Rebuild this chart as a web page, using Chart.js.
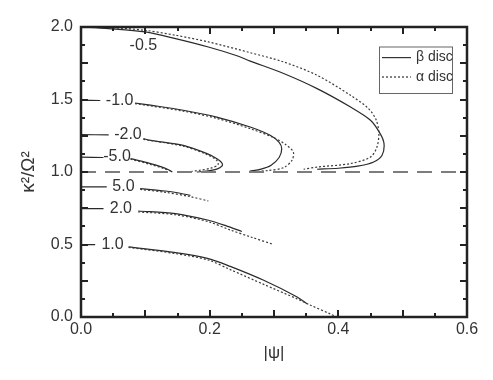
<!DOCTYPE html>
<html>
<head>
<meta charset="utf-8">
<script src="https://cdn.jsdelivr.net/npm/chart.js@4/dist/chart.umd.min.js"></script>
<style>
html,body{margin:0;padding:0;background:#fff;}
#wrap{width:493px;height:380px;}
</style>
</head>
<body>
<div id="wrap"><canvas id="c" width="493" height="380"></canvas></div>
<script>
// ---------- data ----------
const xTicks = [0.0, 0.2, 0.4, 0.6];
const yTicks = [0.0, 0.5, 1.0, 1.5, 2.0];
const xTitle = '|\u03C8|';
const yTitle = '\u03BA\u00B2/\u03A9\u00B2';
const seriesNames = ['\u03B2 disc', '\u03B1 disc'];
const refLevel = [[0, 1.0], [0.6, 1.0]];

// contour labels (parameter value) and where they sit, in data units
const curveLabels = ['-0.5', '-1.0', '-2.0', '-5.0', '5.0', '2.0', '1.0'];
const labelPsi = [0.097, 0.060, 0.073, 0.056, 0.066, 0.062, 0.049];
const labelK = [1.874, 1.494, 1.258, 1.103, 0.897, 0.748, 0.499];

// beta disc (solid); null = gap left for the label
const betaM05 = [[0,2.0],[0.043,1.989],[0.1,1.966],[0.147,1.92],[0.198,1.862],[0.24,1.805],[0.263,1.765],[0.315,1.679],[0.367,1.575],[0.419,1.448],[0.45,1.357],[0.465,1.265],[0.471,1.196],[0.468,1.115],[0.455,1.069],[0.43,1.04],[0.4,1.026],[0.367,1.019]];
const betaM10 = [[0,1.494],[0.030,1.493],null,[0.084,1.476],[0.108,1.461],[0.159,1.426],[0.211,1.379],[0.263,1.31],[0.294,1.253],[0.308,1.205],[0.312,1.16],[0.308,1.1],[0.295,1.045],[0.28,1.02],[0.262,1.005]];
const betaM20 = [[0,1.258],[0.043,1.256],null,[0.097,1.23],[0.108,1.218],[0.159,1.184],[0.196,1.127],[0.212,1.09],[0.219,1.062],[0.219,1.04],[0.211,1.02],[0.195,1.006],[0.18,1.0]];
const betaM50 = [[0,1.103],[0.035,1.1],null,[0.077,1.092],[0.108,1.058],[0.125,1.035],[0.136,1.015],[0.142,1.0]];
const betaP50 = [[0,0.897],[0.040,0.897],null,[0.092,0.886],[0.131,0.869],[0.15,0.857],[0.17,0.839]];
const betaP20 = [[0,0.748],[0.035,0.748],null,[0.089,0.731],[0.147,0.713],[0.198,0.667],[0.225,0.63],[0.25,0.59]];
const betaP10 = [[0,0.499],[0.022,0.499],null,[0.074,0.483],[0.147,0.444],[0.198,0.403],[0.232,0.349],[0.284,0.253],[0.336,0.138],[0.351,0.092]];

// alpha disc (dotted)
const alphaM05 = [[0,2.0],[0.05,1.995],[0.1,1.977],[0.147,1.943],[0.198,1.897],[0.263,1.823],[0.315,1.759],[0.367,1.667],[0.419,1.529],[0.447,1.437],[0.459,1.357],[0.463,1.265],[0.46,1.172],[0.45,1.103],[0.419,1.058],[0.367,1.034],[0.346,1.019]];
const alphaM10 = [[0.084,1.472],[0.159,1.42],[0.211,1.37],[0.263,1.299],[0.298,1.24],[0.318,1.19],[0.33,1.138],[0.328,1.081],[0.315,1.03],[0.29,1.01],[0.27,1.003]];
const alphaM20 = [[0.097,1.225],[0.159,1.178],[0.196,1.12],[0.211,1.08],[0.213,1.05],[0.203,1.028],[0.185,1.012],[0.17,1.003]];
const alphaM50 = [[0.077,1.088],[0.108,1.052],[0.128,1.025],[0.14,1.005]];
const alphaP50 = [[0.092,0.88],[0.131,0.86],[0.17,0.83],[0.198,0.8]];
const alphaP20 = [[0.089,0.725],[0.147,0.705],[0.198,0.657],[0.232,0.6],[0.265,0.55],[0.299,0.501]];
const alphaP10 = [[0.074,0.48],[0.147,0.437],[0.198,0.393],[0.232,0.327],[0.284,0.225],[0.336,0.125],[0.355,0.085],[0.388,0.02],[0.398,0.0]];

// ---------- build ----------
const FONT = '"Liberation Sans", Arial, Helvetica, sans-serif';
function toPts(arr){
  const out = [];
  let lastX = 0;
  arr.forEach(p => {
    if (p === null) out.push({x: lastX, y: null});
    else { out.push({x: p[0], y: p[1]}); lastX = p[0]; }
  });
  return out;
}
const betaSets = [betaM05, betaM10, betaM20, betaM50, betaP50, betaP20, betaP10];
const alphaSets = [alphaM05, alphaM10, alphaM20, alphaM50, alphaP50, alphaP20, alphaP10];

const datasets = [];
datasets.push({label:'ref', data: toPts(refLevel), borderColor:'#7d7d7d', borderWidth:2, borderDash:[15,9], pointRadius:0, tension:0});
alphaSets.forEach(a => datasets.push({label: seriesNames[1], data: toPts(a), borderColor:'#3a3a3a', borderWidth:1.2, borderDash:[2,2], pointRadius:0, tension:0.3}));
betaSets.forEach(b => datasets.push({label: seriesNames[0], data: toPts(b), borderColor:'#2a2a2a', borderWidth:1.2, pointRadius:0, tension:0.3}));

const decor = {
  id: 'decor',
  afterDatasetsDraw(chart){
    const {ctx, scales:{x, y}} = chart;
    const L = x.getPixelForValue(0), R = x.getPixelForValue(0.6);
    const T = y.getPixelForValue(2.0), B = y.getPixelForValue(0);
    ctx.save();
    // contour labels
    ctx.font = '16px ' + FONT;
    ctx.fillStyle = '#333';
    ctx.textAlign = 'center';
    ctx.textBaseline = 'middle';
    curveLabels.forEach((t, i) => ctx.fillText(t, x.getPixelForValue(labelPsi[i]), y.getPixelForValue(labelK[i])));
    // inward ticks
    ctx.strokeStyle = '#222';
    ctx.lineWidth = 2;
    const seg = (a,b,c,d) => { ctx.beginPath(); ctx.moveTo(a,b); ctx.lineTo(c,d); ctx.stroke(); };
    for (let i = 1; i < 12; i++) {
      const px = Math.round(x.getPixelForValue(i * 0.05));
      const len = (i % 2 === 0) ? 7 : 4;
      seg(px, B, px, B - len);
      seg(px, T, px, T + len);
    }
    for (let i = 1; i < 16; i++) {
      const py = Math.round(y.getPixelForValue(i * 0.125));
      const len = (i % 2 === 0) ? 7 : 4;
      seg(L, py, L + len, py);
      seg(R, py, R - len, py);
    }
    // frame
    ctx.lineWidth = 2.5;
    ctx.strokeRect(L, T, R - L, B - T);
    // legend
    const lx = R - 87.5, ly = T + 20, lw = 73, lh = 46.5;
    ctx.lineWidth = 1;
    ctx.strokeStyle = '#666';
    ctx.strokeRect(lx, ly, lw, lh);
    ctx.strokeStyle = '#333';
    ctx.lineWidth = 1.2;
    seg(lx + 2.5, ly + 10.6, lx + 31.5, ly + 10.6);
    ctx.setLineDash([2, 2]);
    seg(lx + 2.5, ly + 30, lx + 31.5, ly + 30);
    ctx.setLineDash([]);
    ctx.font = '14px ' + FONT;
    ctx.textAlign = 'left';
    ctx.fillStyle = '#333';
    ctx.fillText(seriesNames[0], lx + 36.5, ly + 10.6);
    ctx.fillText(seriesNames[1], lx + 36.5, ly + 30);
    ctx.restore();
  }
};

new Chart(document.getElementById('c'), {
  type: 'line',
  data: { datasets },
  options: {
    responsive: false,
    animation: false,
    devicePixelRatio: 1,
    layout: { padding: { top: 27, right: 26, left: 0, bottom: 0 } },
    plugins: { legend: { display: false }, tooltip: { enabled: false } },
    scales: {
      x: {
        type: 'linear', min: 0, max: 0.6,
        afterFit: s => { s.height = 63; },
        afterBuildTicks: s => { s.ticks = xTicks.map(v => ({value: v})); },
        grid: { display: false, drawTicks: false },
        border: { display: false },
        ticks: { color: '#333', font: { size: 16, family: FONT }, padding: 3, maxRotation: 0,
                 callback: v => Number(v).toFixed(1) },
        title: { display: true, text: xTitle, color: '#333', font: { size: 17, family: FONT }, padding: { top: 0, bottom: 16 } }
      },
      y: {
        type: 'linear', min: 0, max: 2.0,
        afterFit: s => { s.width = 81; },
        afterBuildTicks: s => { s.ticks = yTicks.map(v => ({value: v})); },
        grid: { display: false, drawTicks: false },
        border: { display: false },
        ticks: { color: '#333', font: { size: 16, family: FONT }, padding: 8,
                 callback: v => Number(v).toFixed(1) },
        title: { display: true, text: yTitle, color: '#333', font: { size: 19, family: FONT }, padding: { top: 17, bottom: 0 } }
      }
    }
  },
  plugins: [decor]
});
</script>
</body>
</html>
